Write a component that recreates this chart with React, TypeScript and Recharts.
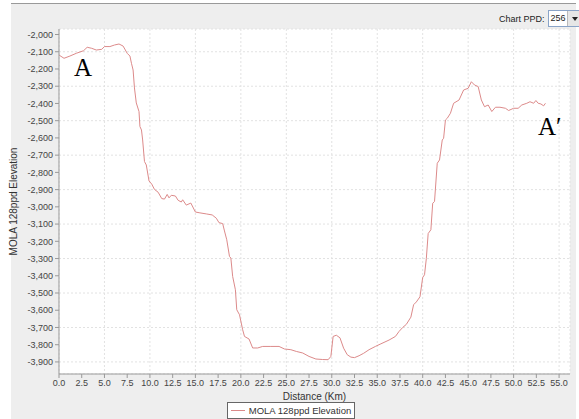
import { LineChart, Line, XAxis, YAxis, CartesianGrid, Legend } from 'recharts';

const distanceKm = [
  0.0, 0.55, 1.2, 1.9, 2.7, 3.1, 3.6, 4.1, 4.7, 5.0, 5.6, 6.1, 6.6, 7.05, 7.5, 7.8, 7.97, 8.15, 8.3, 8.5,
  8.8, 8.9, 9.07, 9.2, 9.4, 9.6, 9.9, 10.2, 10.5, 10.9, 11.3, 11.6, 11.9, 12.1, 12.35, 12.8, 13.1, 13.45, 13.6, 14.0,
  14.5, 15.0, 15.5, 16.2, 16.85, 17.3, 17.6, 18.0, 18.2, 18.45, 18.75, 18.9, 19.1, 19.4, 19.55, 19.85, 20.2, 20.4, 20.9, 21.3,
  21.85, 22.4, 23.3, 24.2, 24.8, 25.5, 26.1, 26.8, 27.5, 28.25, 29.0, 29.6, 29.9, 30.15, 30.5, 30.9, 31.3, 31.7, 32.1, 32.5,
  33.0, 33.5, 34.1, 34.8, 35.4, 36.3, 37.0, 37.4, 37.8, 38.2, 38.7, 39.0, 39.3, 39.7, 40.0, 40.2, 40.4, 40.6, 40.9, 41.1,
  41.3, 41.6, 41.85, 42.15, 42.3, 42.5, 42.7, 43.05, 43.4, 44.0, 44.5, 45.0, 45.35, 45.7, 46.1, 46.45, 46.8, 47.2, 47.6, 48.0,
  48.5, 49.1, 49.45, 50.0, 50.5, 50.9, 51.45, 51.8, 52.2, 52.45, 52.7, 53.0, 53.3, 53.5,
];

const elevationM = [
  -2119, -2138, -2125, -2109, -2094, -2074, -2080, -2090, -2086, -2070, -2070, -2061, -2055, -2067, -2109, -2125, -2167, -2206, -2310, -2397,
  -2447, -2534, -2554, -2612, -2737, -2757, -2850, -2868, -2899, -2915, -2952, -2955, -2928, -2948, -2933, -2937, -2962, -2972, -2959, -2990,
  -2978, -3030, -3035, -3041, -3047, -3066, -3092, -3097, -3140, -3191, -3288, -3297, -3404, -3481, -3597, -3626, -3713, -3752, -3767, -3819,
  -3819, -3810, -3810, -3810, -3825, -3829, -3839, -3848, -3868, -3883, -3886, -3887, -3868, -3752, -3745, -3760, -3820, -3858, -3872, -3875,
  -3864, -3850, -3829, -3810, -3795, -3773, -3752, -3723, -3700, -3682, -3640, -3568, -3552, -3522, -3410, -3394, -3300, -3155, -3133, -2979,
  -2969, -2747, -2728, -2612, -2602, -2496, -2486, -2457, -2399, -2380, -2322, -2312, -2274, -2293, -2302, -2380, -2419, -2409, -2447, -2422,
  -2422, -2428, -2441, -2428, -2428, -2409, -2399, -2390, -2399, -2383, -2399, -2403, -2414, -2399,
];

const xTicks = [0, 2.5, 5, 7.5, 10, 12.5, 15, 17.5, 20, 22.5, 25, 27.5, 30, 32.5, 35, 37.5, 40, 42.5, 45, 47.5, 50, 52.5, 55];
const yTicks = [
  -2000, -2100, -2200, -2300, -2400, -2500, -2600, -2700, -2800, -2900,
  -3000, -3100, -3200, -3300, -3400, -3500, -3600, -3700, -3800, -3900,
];

const seriesName = 'MOLA 128ppd Elevation';
const data = distanceKm.map((d, i) => ({ d, elev: elevationM[i] }));

const font = '"Liberation Sans", Arial, sans-serif';
const serif = '"Liberation Serif", "Times New Roman", serif';
const lineColor = '#dc8a8a';

const LegendBox = () => (
  <div style={{ display: 'flex', justifyContent: 'center', height: 17 }}>
    <div style={{
      display: 'flex',
      alignItems: 'center',
      gap: 4,
      height: 15,
      padding: '0 3px',
      border: '1px solid #666',
      background: '#fff',
      fontFamily: font,
      fontSize: 9.5,
      color: '#333',
    }}>
      <div style={{ width: 14, height: 1, background: lineColor }} />
      {seriesName}
    </div>
  </div>
);

export default function App() {
  return (
    <div style={{ position: 'relative', width: 579, height: 419, background: '#fff', overflow: 'hidden' }}>
      <style>{'body{margin:0}'}</style>
      <div style={{
        position: 'absolute', left: 11, top: 3, right: 3, bottom: 0,
        background: '#eeeeee', borderTop: '1px solid #999',
      }} />
      <div style={{
        position: 'absolute', left: 499, top: 10, display: 'flex', alignItems: 'center', gap: 3,
        fontFamily: font, fontSize: 9, color: '#222', whiteSpace: 'nowrap',
      }}>
        <span>Chart PPD:</span>
        <div style={{ display: 'flex', width: 33, height: 15, border: '1px solid #8aa4c8', background: '#fff' }}>
          <span style={{ flex: 1, paddingLeft: 2, lineHeight: '15px' }}>256</span>
          <div style={{ width: 14, background: '#e6e6e6', borderLeft: '1px solid #bbb', display: 'flex', alignItems: 'center', justifyContent: 'center' }}>
            <div style={{ width: 0, height: 0, borderLeft: '3px solid transparent', borderRight: '3px solid transparent', borderTop: '4px solid #222' }} />
          </div>
        </div>
      </div>
      <div style={{ position: 'absolute', left: 0, top: 0 }}>
        <LineChart width={579} height={419} data={data} margin={{ top: 29, right: 9, bottom: 0, left: 12 }}>
          <CartesianGrid fill="#fff" stroke="#e2e2e2" strokeDasharray="2 2" />
          <XAxis
            dataKey="d"
            type="number"
            domain={[0, 56.2]}
            ticks={xTicks}
            tickFormatter={(v: number) => v.toFixed(1)}
            height={28}
            tickSize={4}
            stroke="#999"
            tick={{ fill: '#444', fontSize: 9, fontFamily: font }}
            label={{ value: 'Distance (Km)', position: 'insideBottom', offset: 2, fill: '#333', fontSize: 10, fontFamily: font }}
          />
          <XAxis xAxisId="top" orientation="top" type="number" dataKey="d" domain={[0, 56.2]} height={0} tick={false} tickLine={false} stroke="#ccc" />
          <YAxis
            type="number"
            domain={[-3970, -1968]}
            ticks={yTicks}
            tickFormatter={(v: number) => v.toLocaleString('en-US')}
            width={47}
            tickSize={4}
            stroke="#999"
            allowDataOverflow
            tick={{ fill: '#444', fontSize: 9, fontFamily: font }}
            label={{ value: seriesName, angle: -90, position: 'insideLeft', offset: 1, fill: '#333', fontSize: 10, fontFamily: font, style: { textAnchor: 'middle' } }}
          />
          <YAxis yAxisId="right" orientation="right" domain={[-3970, -1968]} width={0} tick={false} tickLine={false} stroke="#bbb" />
          <Line
            dataKey="elev"
            name={seriesName}
            stroke={lineColor}
            strokeWidth={1}
            dot={false}
            isAnimationActive={false}
            type="linear"
          />
          <Legend verticalAlign="bottom" content={() => <LegendBox />} />
        </LineChart>
      </div>
      <div style={{ position: 'absolute', left: 74, top: 55, fontFamily: serif, fontSize: 25, color: '#000', lineHeight: 1 }}>A</div>
      <div style={{ position: 'absolute', left: 538, top: 114, fontFamily: serif, fontSize: 25, color: '#000', lineHeight: 1 }}>A′</div>
    </div>
  );
}
